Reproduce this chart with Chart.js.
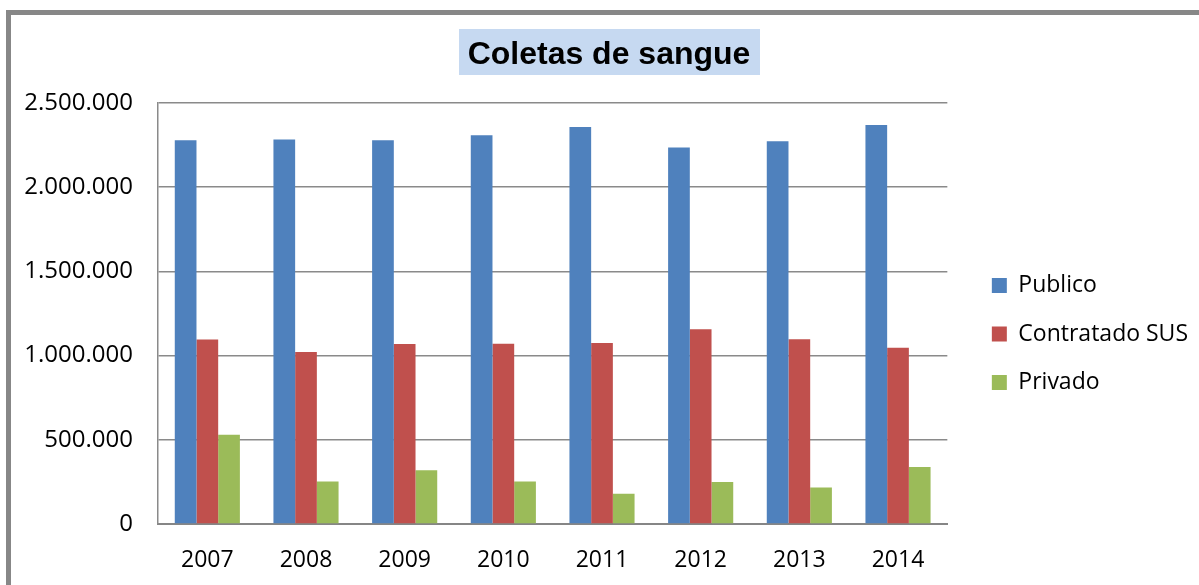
<!DOCTYPE html>
<html>
<head>
<meta charset="utf-8">
<script src="https://cdn.jsdelivr.net/npm/chart.js@4.4.1/dist/chart.umd.min.js"></script>
<style>
    html, body { margin: 0; padding: 0; background: #fff; overflow: hidden; }
    #frame {
        position: absolute; left: 6px; top: 10px;
        width: 1300px; height: 700px;
        border: 5px solid #878787;
        box-sizing: border-box;
    }
    #wrap { position: absolute; left: 0; top: 0; width: 1199px; height: 585px; }
</style>
</head>
<body>
<div id="frame"></div>
<div id="wrap"><canvas id="coletasChart" width="1199" height="585"></canvas></div>
<script>
// Coletas de sangue - data
var anos = ['2007', '2008', '2009', '2010', '2011', '2012', '2013', '2014'];
var publico = [2279000, 2283000, 2279000, 2309000, 2357000, 2236000, 2273000, 2369000];
var contratadoSus = [1095000, 1022000, 1069000, 1071000, 1075000, 1157000, 1097000, 1046000];
var privado = [530000, 253000, 319000, 253000, 179000, 249000, 217000, 339000];

var tituloTexto = 'Coletas de sangue';

// title with the light blue box behind it
var tituloPlugin = {
    id: 'tituloBox',
    afterDraw: function(chart) {
        var ctx = chart.ctx;
        ctx.save();
        ctx.fillStyle = '#c6d9f1';
        ctx.fillRect(459, 29, 301, 46);
        ctx.fillStyle = '#000';
        ctx.font = 'bold 32px "Liberation Sans", Arial, sans-serif';
        ctx.textAlign = 'center';
        ctx.textBaseline = 'alphabetic';
        ctx.fillText(tituloTexto, 609, 64);
        ctx.restore();
    }
};

// nudge the legend away from the plot like the original
var legendaShift = {
    id: 'legendaShift',
    afterLayout: function(chart) {
        var lg = chart.legend;
        if (lg) {
            lg.left += 19;
            lg.right += 19;
            lg.top -= 4;
            lg.bottom -= 4;
        }
    }
};

var fonte = { family: '"Open Sans", sans-serif', size: 23 };

var ctx = document.getElementById('coletasChart');
new Chart(ctx, {
    type: 'bar',
    data: {
        labels: anos,
        datasets: [{
            label: 'Publico',
            data: publico,
            backgroundColor: '#4f81bd'
        }, {
            label: 'Contratado SUS',
            data: contratadoSus,
            backgroundColor: '#c0504d'
        }, {
            label: 'Privado',
            data: privado,
            backgroundColor: '#9bbb59'
        }]
    },
    options: {
        responsive: false,
        animation: false,
        devicePixelRatio: 1,
        categoryPercentage: 0.66,
        barPercentage: 1,
        layout: {
            padding: { left: 0, top: 103, right: 20, bottom: 12 }
        },
        plugins: {
            title: { display: false },
            tooltip: { enabled: false },
            legend: {
                position: 'right',
                align: 'center',
                labels: {
                    boxWidth: 15,
                    boxHeight: 15,
                    padding: 25.5,
                    color: '#000',
                    font: fonte
                }
            }
        },
        scales: {
            x: {
                afterFit: function(scale) { scale.height = 49; },
                grid: { display: false, drawTicks: false },
                border: { display: true, color: '#868686', width: 2 },
                ticks: { color: '#000', font: fonte, padding: 23, maxRotation: 0 }
            },
            y: {
                min: 0,
                max: 2500000,
                afterFit: function(scale) { scale.width = 158; },
                grid: { color: '#8a8a8a', lineWidth: 1.5, drawTicks: false },
                border: { display: true, color: '#8a8a8a', width: 1.5 },
                ticks: {
                    stepSize: 500000,
                    color: '#000',
                    font: { family: '"Open Sans", sans-serif', size: 24 },
                    padding: 25,
                    callback: function(v) { return v.toLocaleString('de-DE'); }
                }
            }
        }
    },
    plugins: [tituloPlugin, legendaShift]
});
</script>
</body>
</html>
